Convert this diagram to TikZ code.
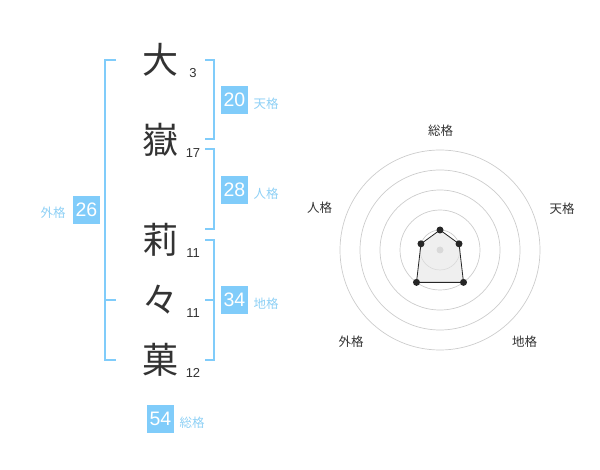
\documentclass[tikz,border=0pt]{standalone}
\usepackage{fontspec}
\setmainfont{Liberation Sans}
\newfontfamily\jp{Noto Sans CJK JP}
\definecolor{ink}{HTML}{333333}
\definecolor{sky}{HTML}{80CCFA}
\definecolor{skytext}{HTML}{8ED0F5}
\definecolor{ringc}{HTML}{CCCCCC}
\definecolor{dotc}{HTML}{C8C8C8}
\begin{document}
\begin{tikzpicture}[x=1pt,y=-1pt,
  kanji/.style={font=\jp\fontsize{36}{36}\selectfont, text=ink, inner sep=0pt},
  strokes/.style={font=\fontsize{13}{13}\selectfont, text=ink, inner sep=0pt},
  valbox/.style={fill=sky, text=white, font=\fontsize{19.5}{19.5}\selectfont, minimum width=27pt, minimum height=28pt, inner sep=0pt},
  vallabel/.style={font=\jp\fontsize{12.5}{12.5}\selectfont, text=skytext, inner sep=0pt},
  bracket/.style={draw=sky, line width=2pt},
  ringline/.style={draw=ringc, line width=0.7pt},
  radarlabel/.style={font=\jp\fontsize{12.5}{12.5}\selectfont, text=ink, inner sep=0pt},
  vdot/.style={circle, fill=black!85, inner sep=0pt, minimum size=7pt}
]
\useasboundingbox (0,0) rectangle (600,470);

% characters
\node[kanji] (c1) at (160,60) {大};
\node[kanji] (c2) at (160,140) {嶽};
\node[kanji] (c3) at (160,240) {莉};
\node[kanji] (c4) at (160,300) {々};
\node[kanji] (c5) at (160,360) {菓};
\node[strokes] (s1) at (193,73) {3};
\node[strokes] (s2) at (193,153) {17};
\node[strokes] (s3) at (193,253) {11};
\node[strokes] (s4) at (193,313) {11};
\node[strokes] (s5) at (193,373) {12};

% brackets
\draw[bracket] (205,60) -- (214,60) -- (214,139) -- (205,139);
\draw[bracket] (205,149) -- (214,149) -- (214,229) -- (205,229);
\draw[bracket] (205,240) -- (214,240) -- (214,360) -- (205,360);
\draw[bracket] (205,300) -- (214,300);
\draw[bracket] (116,60) -- (105,60) -- (105,360) -- (116,360);
\draw[bracket] (105,300) -- (116,300);

% values
\node[valbox] (v1) at (234.5,100) {20};
\node[vallabel] (l1) at (266,104) {天格};
\node[valbox] (v2) at (234.5,190) {28};
\node[vallabel] (l2) at (266,194) {人格};
\node[valbox] (v3) at (234.5,300) {34};
\node[vallabel] (l3) at (266,304) {地格};
\node[valbox] (v4) at (86.5,210) {26};
\node[vallabel] (l4) at (53,213) {外格};
\node[valbox] (v5) at (160.5,419) {54};
\node[vallabel] (l5) at (192,423) {総格};

% radar
\begin{scope}[shift={(440,250)}, y=1pt]
  \foreach \r in {20,40,60,80,100} \draw[ringline] (0,0) circle (\r pt);
  \node[circle, fill=dotc, inner sep=0pt, minimum size=7pt] (ctr) at (0,0) {};
  \coordinate (pA) at (90:20);
  \coordinate (pB) at (18:20);
  \coordinate (pC) at (-54:40);
  \coordinate (pD) at (234:40);
  \coordinate (pE) at (162:20);
  \fill[gray!20, fill opacity=0.6] (pA) -- (pB) -- (pC) -- (pD) -- (pE) -- cycle;
  \draw[black!85, line width=0.8pt] (pA) -- (pB) -- (pC) -- (pD) -- (pE) -- cycle;
  \foreach \p in {pA,pB,pC,pD,pE} \node[vdot] at (\p) {};
\end{scope}
\node[radarlabel] (r1) at (440.5,130.5) {総格};
\node[radarlabel] (r2) at (562,208.5) {天格};
\node[radarlabel] (r3) at (319.5,208) {人格};
\node[radarlabel] (r4) at (351,342) {外格};
\node[radarlabel] (r5) at (524.5,342) {地格};
\end{tikzpicture}
\end{document}
